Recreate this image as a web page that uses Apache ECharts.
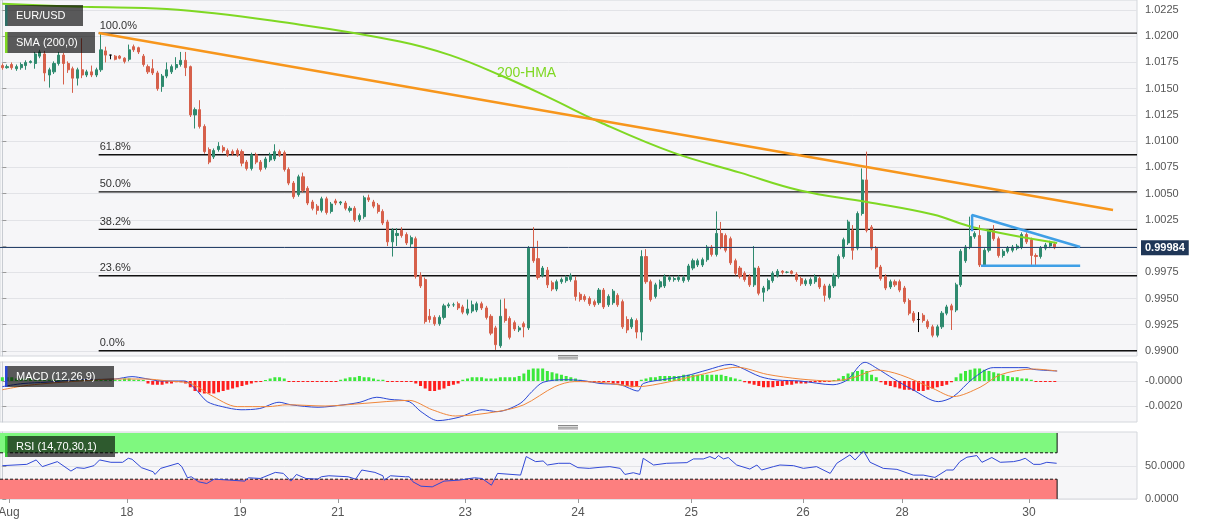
<!DOCTYPE html>
<html><head><meta charset="utf-8">
<script src="https://cdn.jsdelivr.net/npm/echarts@6/dist/echarts.min.js"></script>
<style>html,body{margin:0;padding:0;background:#fff}#c{width:1207px;height:526px}</style>
</head><body><div id="c"></div>
<script>
// hourly candles [open, close, low, high]
const candles = [
[1.0172,1.0170,1.0168,1.0174],[1.0170,1.0171,1.0169,1.0173],[1.0173,1.0170,1.0168,1.0175],[1.0169,1.0171,1.0167,1.0173],
[1.0170,1.0173,1.0168,1.0175],[1.0172,1.0175,1.0168,1.0177],[1.0175,1.0176,1.0174,1.0177],[1.0174,1.0183,1.0169,1.0185],
[1.0181,1.0185,1.0179,1.0187],[1.0183,1.0165,1.0157,1.0186],[1.0163,1.0168,1.0151,1.0170],[1.0166,1.0174,1.0164,1.0176],
[1.0174,1.0182,1.0172,1.0185],[1.0182,1.0174,1.0154,1.0184],[1.0174,1.0168,1.0165,1.0176],[1.0169,1.0160,1.0146,1.0171],
[1.0160,1.0168,1.0153,1.0170],[1.0168,1.0163,1.0160,1.0198],[1.0163,1.0166,1.0161,1.0168],[1.0166,1.0163,1.0161,1.0172],
[1.0163,1.0168,1.0161,1.0170],[1.0168,1.0187,1.0166,1.0203],[1.0186,1.0182,1.0175,1.0190],[1.0182,1.0182,1.0178,1.0182],
[1.0181,1.0178,1.0177,1.0182],[1.0181,1.0179,1.0178,1.0182],[1.0179,1.0176,1.0174,1.0180],[1.0178,1.0187,1.0176,1.0192],
[1.0190,1.0187,1.0185,1.0192],[1.0189,1.0185,1.0183,1.0190],[1.0181,1.0173,1.0171,1.0183],[1.0171,1.0166,1.0164,1.0173],
[1.0169,1.0165,1.0163,1.0178],[1.0165,1.0150,1.0148,1.0167],[1.0152,1.0162,1.0147,1.0164],[1.0162,1.0168,1.0160,1.0175],
[1.0166,1.0171,1.0164,1.0173],[1.0170,1.0173,1.0168,1.0180],[1.0173,1.0177,1.0171,1.0185],[1.0177,1.0170,1.0162,1.0185],
[1.0171,1.0125,1.0123,1.0172],[1.0125,1.0130,1.0112,1.0132],[1.0130,1.0114,1.0112,1.0139],[1.0114,1.0090,1.0088,1.0116],
[1.0092,1.0080,1.0078,1.0094],[1.0085,1.0091,1.0083,1.0093],[1.0092,1.0095,1.0090,1.0099],[1.0094,1.0091,1.0089,1.0096],
[1.0091,1.0087,1.0085,1.0093],[1.0090,1.0088,1.0086,1.0092],[1.0091,1.0087,1.0085,1.0093],[1.0090,1.0079,1.0076,1.0092],
[1.0080,1.0074,1.0072,1.0082],[1.0074,1.0087,1.0072,1.0089],[1.0087,1.0080,1.0078,1.0089],[1.0080,1.0073,1.0071,1.0082],
[1.0075,1.0083,1.0073,1.0085],[1.0082,1.0087,1.0080,1.0089],[1.0083,1.0090,1.0081,1.0097],[1.0090,1.0087,1.0085,1.0092],
[1.0089,1.0073,1.0071,1.0091],[1.0073,1.0060,1.0058,1.0075],[1.0060,1.0047,1.0045,1.0062],[1.0049,1.0066,1.0047,1.0068],
[1.0066,1.0053,1.0051,1.0070],[1.0055,1.0041,1.0039,1.0057],[1.0042,1.0036,1.0034,1.0044],[1.0038,1.0034,1.0030,1.0040],
[1.0034,1.0045,1.0032,1.0047],[1.0045,1.0032,1.0030,1.0047],[1.0033,1.0040,1.0031,1.0042],[1.0043,1.0041,1.0039,1.0045],
[1.0041,1.0042,1.0039,1.0043],[1.0041,1.0036,1.0034,1.0043],[1.0034,1.0036,1.0032,1.0038],[1.0036,1.0025,1.0023,1.0038],
[1.0025,1.0029,1.0023,1.0031],[1.0028,1.0046,1.0026,1.0048],[1.0046,1.0044,1.0042,1.0049],[1.0042,1.0038,1.0036,1.0044],
[1.0039,1.0033,1.0031,1.0041],[1.0033,1.0022,1.0020,1.0035],[1.0023,1.0004,1.0000,1.0025],[1.0004,1.0015,0.9990,1.0017],
[1.0010,1.0012,1.0000,1.0017],[1.0015,1.0010,1.0008,1.0018],[1.0011,1.0003,1.0001,1.0013],[1.0002,1.0008,0.9998,1.0010],
[1.0007,0.9971,0.9969,1.0009],[0.9972,0.9962,0.9960,0.9975],[0.9968,0.9928,0.9926,0.9970],[0.9933,0.9930,0.9927,0.9940],
[0.9932,0.9926,0.9924,0.9934],[0.9926,0.9932,0.9924,0.9934],[0.9932,0.9943,0.9930,0.9945],[0.9943,0.9944,0.9941,0.9946],
[0.9944,0.9944,0.9942,0.9946],[0.9945,0.9941,0.9939,0.9947],[0.9942,0.9937,0.9935,0.9944],[0.9936,0.9940,0.9934,0.9949],
[0.9938,0.9944,0.9936,0.9948],[0.9939,0.9945,0.9937,0.9947],[0.9945,0.9941,0.9939,0.9947],[0.9941,0.9932,0.9930,0.9943],
[0.9933,0.9917,0.9915,0.9935],[0.9922,0.9906,0.9901,0.9924],[0.9905,0.9933,0.9903,0.9949],[0.9940,0.9929,0.9927,0.9950],
[0.9931,0.9913,0.9911,0.9933],[0.9927,0.9921,0.9919,0.9929],[0.9920,0.9922,0.9918,0.9924],[0.9926,0.9923,0.9913,0.9928],
[0.9922,0.9998,0.9920,1.0000],[0.9998,0.9986,0.9984,1.0018],[0.9988,0.9970,0.9968,1.0005],[0.9972,0.9979,0.9970,0.9981],
[0.9977,0.9963,0.9960,0.9980],[0.9965,0.9959,0.9957,0.9967],[0.9959,0.9966,0.9957,0.9968],[0.9966,0.9968,0.9964,0.9970],
[0.9967,0.9970,0.9965,0.9972],[0.9968,0.9972,0.9966,0.9974],[0.9967,0.9952,0.9948,0.9971],[0.9954,0.9949,0.9947,0.9956],
[0.9952,0.9949,0.9947,0.9954],[0.9950,0.9945,0.9943,0.9952],[0.9947,0.9944,0.9942,0.9949],[0.9946,0.9958,0.9944,0.9960],
[0.9958,0.9942,0.9940,0.9960],[0.9944,0.9952,0.9942,0.9954],[0.9946,0.9957,0.9944,0.9959],[0.9953,0.9944,0.9942,0.9955],
[0.9947,0.9923,0.9921,0.9949],[0.9930,0.9920,0.9917,0.9933],[0.9923,0.9930,0.9921,0.9932],[0.9929,0.9918,0.9912,0.9931],
[0.9918,0.9990,0.9910,0.9996],[0.9990,0.9966,0.9964,0.9997],[0.9966,0.9949,0.9947,0.9968],[0.9952,0.9963,0.9950,0.9965],
[0.9961,0.9966,0.9959,0.9968],[0.9962,0.9971,0.9960,0.9973],[0.9968,0.9970,0.9966,0.9972],[0.9968,0.9969,0.9966,0.9971],
[0.9968,0.9970,0.9966,0.9972],[0.9967,0.9970,0.9965,0.9972],[0.9968,0.9981,0.9966,0.9983],[0.9979,0.9986,0.9977,0.9988],
[0.9982,0.9986,0.9980,0.9988],[0.9982,0.9987,0.9980,0.9989],[0.9987,0.9999,0.9985,1.0001],[0.9999,0.9992,0.9990,1.0001],
[0.9992,1.0012,0.9990,1.0033],[1.0012,0.9999,0.9997,1.0023],[1.0010,0.9996,0.9994,1.0012],[1.0007,0.9984,0.9982,1.0009],
[0.9986,0.9974,0.9972,0.9988],[0.9979,0.9971,0.9969,0.9981],[0.9974,0.9968,0.9966,0.9976],[0.9971,0.9963,0.9961,0.9973],
[0.9963,0.9979,0.9961,1.0000],[0.9979,0.9955,0.9953,0.9981],[0.9956,0.9960,0.9947,0.9962],[0.9959,0.9967,0.9957,0.9969],
[0.9967,0.9974,0.9965,0.9976],[0.9972,0.9976,0.9970,0.9978],[0.9976,0.9975,0.9973,0.9977],[0.9975,0.9975,0.9974,0.9976],
[0.9976,0.9974,0.9973,0.9977],[0.9973,0.9968,0.9966,0.9975],[0.9969,0.9964,0.9962,0.9971],[0.9964,0.9967,0.9962,0.9969],
[0.9964,0.9968,0.9962,0.9970],[0.9966,0.9971,0.9964,0.9973],[0.9969,0.9961,0.9959,0.9971],[0.9962,0.9953,0.9947,0.9964],
[0.9951,0.9962,0.9949,0.9964],[0.9962,0.9972,0.9960,0.9974],[0.9971,0.9990,0.9969,0.9992],[0.9990,1.0006,0.9988,1.0008],
[1.0003,1.0023,1.0001,1.0025],[1.0015,0.9996,0.9987,1.0020],[0.9998,1.0031,0.9996,1.0033],[1.0031,1.0063,1.0029,1.0074],
[1.0063,1.0015,1.0013,1.0090],[1.0018,0.9998,0.9996,1.0020],[0.9998,0.9980,0.9978,1.0000],[0.9980,0.9969,0.9967,0.9982],
[0.9971,0.9960,0.9958,0.9973],[0.9961,0.9966,0.9959,0.9968],[0.9966,0.9963,0.9961,0.9968],[0.9966,0.9958,0.9956,0.9968],
[0.9960,0.9947,0.9945,0.9962],[0.9948,0.9936,0.9934,0.9950],[0.9936,0.9929,0.9927,0.9938],[0.9930,0.9930,0.9918,0.9937],
[0.9934,0.9929,0.9927,0.9936],[0.9928,0.9923,0.9921,0.9930],[0.9923,0.9915,0.9913,0.9925],[0.9915,0.9923,0.9913,0.9925],
[0.9923,0.9936,0.9921,0.9938],[0.9936,0.9942,0.9934,0.9944],[0.9943,0.9939,0.9920,0.9945],[0.9939,0.9963,0.9937,0.9965],
[0.9963,0.9995,0.9961,0.9997],[0.9986,0.9999,0.9984,1.0001],[0.9999,1.0009,0.9997,1.0028],[1.0009,1.0012,1.0007,1.0014],
[1.0010,0.9982,0.9980,1.0020],[0.9982,0.9996,0.9980,0.9998],[0.9996,1.0014,0.9994,1.0016],[1.0015,1.0007,1.0005,1.0020],
[1.0007,0.9991,0.9989,1.0009],[0.9991,0.9995,0.9989,0.9997],[0.9995,0.9998,0.9993,1.0000],[0.9996,0.9999,0.9994,1.0001],
[0.9998,1.0000,0.9996,1.0002],[0.9999,1.0011,0.9997,1.0013],[1.0011,1.0004,1.0002,1.0013],[1.0006,0.9991,0.9982,1.0008],
[0.9991,0.9990,0.9982,0.9993],[0.9990,0.9998,0.9988,1.0000],[0.9998,1.0001,0.9996,1.0003],[1.0000,1.0003,0.9998,1.0005],
[1.0002,0.99984,0.9997,1.0004]
];
const blackCandles = [23, 195];
const lastPrice = 0.99984;

// 200-period moving average, [candle index, price]
const smaPoints = [[0,1.0231],[17.2,1.0228],[35,1.0226],[63.4,1.0211],[84.6,1.0195],[95.3,1.0182],[105.9,1.0163],
  [116.6,1.0141],[127.2,1.0118],[142.8,1.0089],[157,1.0070],[169.8,1.0053],[184,1.0042],[198.1,1.0030],[206.6,1.0018],[224.5,1.0003]];
const trendPoints = [[20.5,1.0203],[236.4,1.00344]];
const triangleUpper = [[206.4,1.0014],[206.4,1.00296],[229.4,0.99991]];
const triangleLower = [[208.3,0.99813],[229.4,0.99813]];

// Fibonacci retracement
const fibStart = 20.5;
const fibLevels = [1.0203, 1.00870, 1.00517, 1.00158, 0.99717, 0.99002];
const fibLabels = ['100.0%', '61.8%', '50.0%', '38.2%', '23.6%', '0.0%'];

// MACD (12,26,9)
const macdPoints = [[0,-0.00045],[4.4,-0.0002],[9.3,-0.0001],[16.5,0.0001],[24,0.00016],[27.6,0.00035],[30.4,0.0002],
  [33.8,0],[38.7,0],[41,-0.0006],[43.6,-0.00165],[46.8,-0.00205],[50.8,-0.0023],[54.8,-0.0022],[58.9,-0.0017],
  [61.4,-0.0019],[67.2,-0.0021],[72.7,-0.0019],[76.1,-0.0017],[79.7,-0.0013],[82.5,-0.00147],[86.6,-0.00165],
  [89.1,-0.00245],[92.7,-0.00317],[97.2,-0.0029],[102.1,-0.0023],[105.3,-0.00245],[110.2,-0.0018],[112.7,-0.00085],
  [115.1,-0.0001],[120,0.0001],[124.2,0],[127.2,-0.0002],[131.5,-0.0003],[135.3,-0.0008],[136.4,-0.0002],
  [141.5,0.00016],[145.7,0.00043],[150,0.00088],[154.9,0.00133],[157,0.0011],[161.3,0.00035],[164.9,0.00008],
  [169.8,0],[176.8,-0.0003],[179.8,0.00008],[183.6,0.0015],[186.2,0.001],[189.6,0.0002],[193.8,-0.0007],
  [199.2,-0.00165],[202.4,-0.00125],[206.6,0.0002],[210.9,0.00107],[218.1,0.00107],[219.4,0.00093],[224.5,0.0008]];
const signalPoints = [[0,-0.0007],[4.4,-0.0004],[9.3,-0.0002],[16.5,0],[24,0.00016],[30.4,0.00016],[35.3,0],
  [40.2,-0.0002],[44.2,-0.0011],[50,-0.00205],[56.5,-0.00205],[60.6,-0.0019],[68.7,-0.002],[77,-0.00179],
  [86.6,-0.00155],[91.5,-0.0023],[96.4,-0.0028],[105.3,-0.00245],[111,-0.0019],[117.6,-0.00045],[121.7,-0.00005],
  [127.2,-0.0001],[135.3,-0.00045],[141.5,-0.0001],[148.5,0.0005],[156.4,0.0011],[162.8,0.00053],[169.8,0.00016],
  [176.8,0],[181.1,0.00027],[186.2,0.00088],[191.1,0.0005],[198.1,-0.0006],[202.4,-0.00125],[208.1,-0.0005],
  [212.4,0.0005],[219.4,0.00096],[224.5,0.0008]];
// histogram per candle, in units of 0.0001
const macdHist = [3,3,3,2, 2,2,2,1,1,1, 1,1,1,1,1,1,1,1,1,1,1,1,1,1, 1,1,2,2,1,1,0.5,
  -2,-3,-3,-3,-2,-2,-1,-1, -2,-5,-8,-9,-10,-10,-10,-9,-8,-7,-6,-5,-4,-3,-2, -1,-0.5,0.5, 2,3,3,2,
  -0.5,-0.5,-0.5,-0.5,-0.5,-0.5,-0.5,-0.5,-0.5,-0.5,-0.5, 1,2,3,3,4,3,3,2,1,1, -0.5,-0.5,-0.5,-0.5,-0.5,-0.5,
  -2,-4,-6,-8,-8,-7,-6,-4,-3,-2, 1,2,3,3,3,2,2, 2,3,3,3,3,4, 6,9,10,10,10,8,7,6,5, 4,3,2,1,
  -0.5,-1,-1,-1, -1,-1,-2,-2, -3,-4,-5,-4,
  1,2,3,3,4,4,4,4,4,5,5,5,5,5,5,5,5,5,4,3,2,1,
  -1,-2,-3,-4,-5,-5,-5,-4,-4,-3,-3,-2,-2,-2,-1,-1,-1,-0.5,-0.5,0.5,
  2,4,6,7,8,9,8,5,3,
  -1,-3,-4,-5,-6,-7,-7,-8,-8,-8,-7,-6,-5,-4,-3,-1,
  3,6,8,9,10,10,9,8,7,6,5,4,3,3,2,2,1,
  -0.5,-0.5,-0.5,-0.5,-0.5];

// RSI (14,70,30)
const rsiPoints = [[0,50.5],[5.2,52.5],[7.2,59.2],[8.5,49],[11.7,56.6],[14.6,42.3],[15.8,47.5],[17.4,46.4],[19.5,50.5],
  [20.7,59.2],[23.1,55.6],[25.6,55.6],[26.8,61.7],[27.6,60.2],[29.6,47.5],[32.1,41.3],[32.5,37.2],[33.7,46.4],
  [37.4,54.1],[38.2,49],[39.4,32.1],[40.2,33.7],[41.8,26],[43.5,23.5],[45.1,30.1],[48.4,28.6],[51.6,27.1],
  [52.4,32.1],[54.9,31.1],[58.1,40.3],[59.8,38.8],[61.4,27.1],[62.6,37.2],[64.6,31.1],[67.1,30.1],[67.9,33.7],
  [69.5,35.2],[73.6,33.7],[75.2,30.1],[76.5,43.9],[79.3,40.3],[81,35.2],[81.3,28.6],[82.6,35.2],[85.8,33.7],
  [86.6,33.7],[87.4,26],[89.1,19.4],[91.5,18.4],[94,27.1],[97.2,28.6],[100.5,32.1],[102.1,31.1],[104.1,20.9],
  [105.4,38.8],[110.3,36.2],[111.5,64.3],[113.5,56.6],[115.1,57.6],[116,51.5],[118.4,54.1],[120.8,54.1],
  [122.5,47.5],[124.9,46.4],[127.2,48],[129.3,49],[131.5,46.4],[132.5,37.2],[134.3,39.8],[135.7,37.2],
  [136.4,61.7],[138.6,51.5],[141.4,54.1],[145.7,55.1],[147.1,60.7],[149.2,60.7],[150.6,64.3],[151.7,60.7],
  [152.4,65.8],[153.5,60.7],[154.5,62.8],[156.3,51.5],[159.1,45.4],[160.6,51.5],[161.6,43.9],[164.1,49],
  [165.5,51.5],[168.4,50.5],[170.5,46.4],[173.3,49],[176.2,38.8],[177.6,54.1],[180.4,66.8],[181.5,59.2],
  [183.3,72.9],[184.7,55.6],[187.5,46.4],[190.4,44.9],[193.9,36.2],[196,36.2],[198.5,32.7],[201,43.9],
  [202.4,43.9],[203.8,56.6],[205.3,63.3],[207.4,65.8],[208.5,55.6],[210.6,62.8],[212.4,55.6],[215.2,56.6],
  [216.6,58.7],[217.7,61.7],[219.5,52.5],[220.9,52.5],[222.3,55.6],[224.4,54.1]];
const rsiBands = [[70, 100], [0, 30]];

// axis ticks
const priceTicks = [0.9900,0.9925,0.9950,0.9975,1.0000,1.0025,1.0050,1.0075,1.0100,1.0125,1.0150,1.0175,1.0200,1.0225];
const macdTicks = [0, -0.002];
const rsiTicks = [0, 50];
const dayTicks = [1.4, 26.5, 50.6, 71.4, 98.5, 122.5, 146.6, 170.4, 191.5, 218.5];
const dayLabels = ['Aug','18','19','21','23','24','25','26','28','30'];

const UP = '#2e8a6e', DOWN = '#d6604b';
const XMAX = 241.5;
const chart = echarts.init(document.getElementById('c'), null, {renderer: 'canvas'});

const candleData = candles.map((r, i) => {
  const item = {value: [i, r[0], r[1], r[2], r[3]]};
  if (blackCandles.includes(i)) item.itemStyle = {color: '#000', color0: '#000', borderColor: '#000', borderColor0: '#000'};
  return item;
});
const histData = macdHist.map((v, i) => ({value: [i, v * 0.0001], itemStyle: {color: v >= 0 ? '#3be83b' : '#ff1e1e'}}));

const gridBase = {left: 0, right: 70, show: true, backgroundColor: '#f6f6f8', borderColor: '#d4d7dc', borderWidth: 1, outerBoundsMode: 'none', containLabel: false};
const hiddenX = (g) => ({gridIndex: g, type: 'value', min: -0.5, max: XMAX, show: false});
const yBase = {type: 'value', position: 'right',
  axisLine: {show: true, lineStyle: {color: '#c8ccd2'}},
  splitLine: {show: true, lineStyle: {color: '#e2e3e7'}}};

function labelBox(x, y, w, text, bar) {
  return {type: 'group', x: x, y: y, children: [
    {type: 'rect', z: 100, shape: {x: 0, y: 0, width: w, height: 21}, style: {fill: 'rgba(0,0,0,0.64)'}},
    {type: 'rect', z: 101, shape: {x: 0, y: 0, width: 2.5, height: 21}, style: {fill: bar}},
    {type: 'text', z: 102, x: 11, y: 10.5, style: {text: text, fill: '#fff', font: '11px Arial', verticalAlign: 'middle', textVerticalAlign: 'middle'}}
  ]};
}
function handle(y) {
  return {type: 'group', x: 558, y: y, children: [0, 1.7, 3.4].map(d => ({type: 'line', z: 100, shape: {x1: 0, y1: d, x2: 20, y2: d}, style: {stroke: '#888', lineWidth: 1}}))};
}

const option = {
  animation: false,
  backgroundColor: '#ffffff',
  grid: [
    Object.assign({top: 0, height: 356}, gridBase),
    Object.assign({top: 362, height: 60}, gridBase),
    Object.assign({top: 432, height: 67}, gridBase)
  ],
  xAxis: [hiddenX(0), hiddenX(1), {
    gridIndex: 2, type: 'value', min: -0.5, max: XMAX,
    axisLine: {show: false}, splitLine: {show: false},
    axisTick: {show: true, customValues: dayTicks, length: 4, lineStyle: {color: '#9a9a9a'}},
    axisLabel: {customValues: dayTicks, formatter: v => dayLabels[dayTicks.indexOf(v)], color: '#555', fontSize: 12, fontFamily: 'Arial', margin: 8}
  }],
  yAxis: [
    Object.assign({gridIndex: 0, min: 0.98952, max: 1.02345,
      axisTick: {show: true, customValues: priceTicks, length: 4, lineStyle: {color: '#9a9a9a'}},
      axisLabel: {customValues: priceTicks, formatter: v => v.toFixed(4), color: '#555', fontSize: 11, fontFamily: 'Arial', margin: 8}}, yBase),
    Object.assign({gridIndex: 1, min: -0.00328, max: 0.00152,
      axisTick: {show: true, customValues: macdTicks, length: 4, lineStyle: {color: '#9a9a9a'}},
      axisLabel: {customValues: macdTicks, formatter: v => '-' + Math.abs(v).toFixed(4), color: '#555', fontSize: 11, fontFamily: 'Arial', margin: 8}}, yBase),
    Object.assign({gridIndex: 2, min: 0, max: 101.5,
      axisTick: {show: true, customValues: rsiTicks, length: 4, lineStyle: {color: '#9a9a9a'}},
      axisLabel: {customValues: rsiTicks, formatter: v => v.toFixed(4), color: '#555', fontSize: 11, fontFamily: 'Arial', margin: 8}}, yBase)
  ],
  series: [
    {
      type: 'custom', name: 'fib', xAxisIndex: 0, yAxisIndex: 0, z: 2, silent: true,
      data: fibLevels.map((p, i) => [fibStart, p, i]),
      renderItem: (params, api) => {
        const pt = api.coord([api.value(0), api.value(1)]);
        const cs = params.coordSys;
        const i = api.value(2);
        return {type: 'group', children: [
          {type: 'line', shape: {x1: pt[0], y1: pt[1], x2: cs.x + cs.width, y2: pt[1]}, style: {stroke: '#111', lineWidth: 1.3}},
          {type: 'text', x: pt[0] + 1, y: pt[1] - 2, style: {text: fibLabels[i], fill: '#333', font: '11px Arial', verticalAlign: 'bottom', textVerticalAlign: 'bottom'}}
        ]};
      }
    },
    {
      type: 'candlestick', name: 'EUR/USD', xAxisIndex: 0, yAxisIndex: 0, z: 3,
      data: candleData, encode: {x: 0, y: [1, 2, 3, 4]}, barWidth: 2.6,
      itemStyle: {color: UP, color0: DOWN, borderColor: UP, borderColor0: DOWN, borderWidth: 1},
      markLine: {
        symbol: 'none', silent: true, precision: 5,
        data: [{yAxis: lastPrice}],
        lineStyle: {color: '#27426a', width: 1, type: 'solid'},
        label: {position: 'end', formatter: () => lastPrice.toFixed(5), backgroundColor: '#1f3657', color: '#fff',
          fontWeight: 'bold', fontSize: 11, fontFamily: 'Arial', padding: [2, 4], distance: 4}
      }
    },
    {type: 'line', name: 'SMA', xAxisIndex: 0, yAxisIndex: 0, z: 4, data: smaPoints, smooth: 0.4, showSymbol: false,
      lineStyle: {color: '#7fd823', width: 2}},
    {type: 'line', name: 'trend', xAxisIndex: 0, yAxisIndex: 0, z: 4, data: trendPoints, showSymbol: false,
      lineStyle: {color: '#f7961c', width: 2.5}},
    {type: 'line', name: 'triUp', xAxisIndex: 0, yAxisIndex: 0, z: 5, data: triangleUpper, showSymbol: false,
      lineStyle: {color: '#3f9fe6', width: 2.5}},
    {type: 'line', name: 'triLow', xAxisIndex: 0, yAxisIndex: 0, z: 5, data: triangleLower, showSymbol: false,
      lineStyle: {color: '#3f9fe6', width: 2.5}},
    {type: 'bar', name: 'hist', xAxisIndex: 1, yAxisIndex: 1, data: histData, barWidth: 3, barMinHeight: 1, z: 2},
    {type: 'line', name: 'MACD', xAxisIndex: 1, yAxisIndex: 1, data: macdPoints, showSymbol: false, smooth: 0.3,
      lineStyle: {color: '#2a47d4', width: 1}, z: 3},
    {type: 'line', name: 'Signal', xAxisIndex: 1, yAxisIndex: 1, data: signalPoints, showSymbol: false, smooth: 0.3,
      lineStyle: {color: '#f0863a', width: 1}, z: 3},
    {
      type: 'custom', name: 'rsiBands', xAxisIndex: 2, yAxisIndex: 2, z: 1, silent: true,
      data: rsiBands.map((b, i) => [b[0], b[1], i]),
      renderItem: (params, api) => {
        const lo = api.value(0), hi = api.value(1), i = api.value(2);
        const xEnd = candles.length - 0.5;
        const a = api.coord([-0.5, lo]), b = api.coord([xEnd, hi]);
        const dashY = i === 0 ? a[1] : b[1];
        return {type: 'group', children: [
          {type: 'rect', shape: {x: a[0], y: b[1], width: b[0] - a[0], height: a[1] - b[1]}, style: {fill: i === 0 ? '#7ff87f' : '#fd7f7f'}},
          {type: 'line', shape: {x1: a[0], y1: dashY, x2: b[0], y2: dashY}, style: {stroke: '#111', lineWidth: 1, lineDash: [3, 2]}},
          {type: 'line', shape: {x1: b[0], y1: b[1], x2: b[0], y2: a[1]}, style: {stroke: '#111', lineWidth: 1}}
        ]};
      }
    },
    {type: 'line', name: 'RSI', xAxisIndex: 2, yAxisIndex: 2, data: rsiPoints, showSymbol: false,
      lineStyle: {color: '#3149d6', width: 1}, z: 3}
  ],
  graphic: [
    labelBox(5, 5, 78, 'EUR/USD', '#2c6f66'),
    labelBox(5, 32, 90, 'SMA (200,0)', '#7fd823'),
    labelBox(5, 366, 109, 'MACD (12,26,9)', '#2a47d4'),
    labelBox(5, 436, 110, 'RSI (14,70,30,1)', '#35c635'),
    {type: 'text', x: 497, y: 73, z: 100, style: {text: '200-HMA', fill: '#7fd823', font: '14px Arial', verticalAlign: 'middle', textVerticalAlign: 'middle'}},
    handle(355.5),
    handle(425.5)
  ]
};
chart.setOption(option);
</script>
</body></html>
